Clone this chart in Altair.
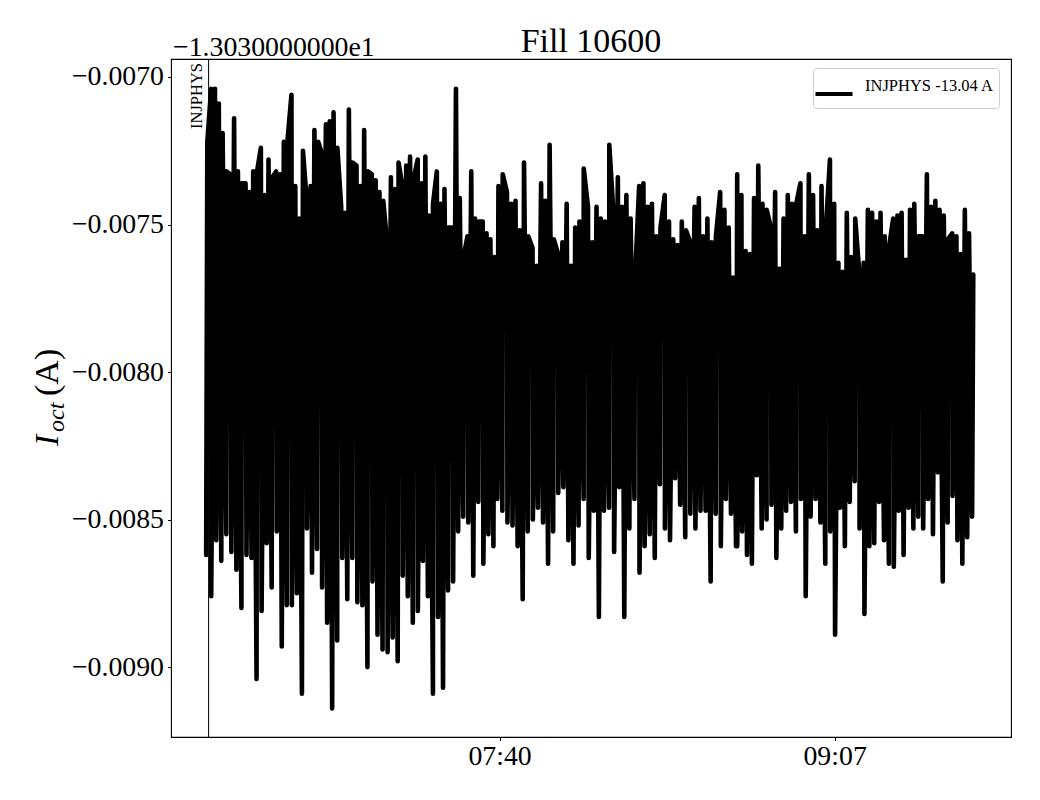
import altair as alt
import pandas as pd
import numpy as np

TITLE = "Fill 10600"
OFFSET_LABEL = "\u22121.3030000000e1"
SERIES = "INJPHYS -13.04 A"
MARKER = "INJPHYS"
INJ_TIME = 384.44            # minutes after midnight (06:24:26)
X_DOMAIN = [374.67, 592.8]   # minutes after midnight
X_TICKS = [460, 547]         # 07:40, 09:07
Y_TICKS = [-0.0070, -0.0075, -0.0080, -0.0085, -0.0090]
Y_DOMAIN = [-0.009237, -0.006939]

# Signal readings (offset from -13.03 A, in mA), upper and lower excursions,
# in three time spans (minutes after midnight).
top_A_span = [384.1, 458.6]
top_A = [-7.22, -7.04, -7.04, -7.09, -7.19, -7.32, -7.33, -7.14, -7.32, -7.36,
         -7.36, -7.39, -7.32, -7.32, -7.24, -7.40, -7.28, -7.34, -7.32, -7.33,
         -7.22, -7.21, -7.06, -7.37, -7.48, -7.25, -7.42, -7.37, -7.18, -7.22,
         -7.26, -7.16, -7.15, -7.12, -7.24, -7.44, -7.46, -7.11, -7.29, -7.30,
         -7.37, -7.18, -7.32, -7.33, -7.35, -7.39, -7.42, -7.56, -7.34, -7.38,
         -7.29, -7.37, -7.30, -7.27, -7.34, -7.28, -7.36, -7.27, -7.47, -7.43,
         -7.32, -7.43, -7.38, -7.51, -7.51, -7.04, -7.41, -7.61, -7.54, -7.32,
         -7.48, -7.49, -7.49, -7.53, -7.55, -7.61]
bot_A_span = [383.8, 458.4]
bot_A = [-8.62, -8.76, -8.57, -8.64, -8.55, -8.61, -8.67, -8.80, -8.62, -8.63,
         -9.04, -8.81, -8.58, -8.73, -8.54, -8.93, -8.79, -8.79, -8.75, -9.09,
         -8.53, -8.68, -8.60, -8.73, -8.85, -9.14, -8.91, -8.63, -8.77, -8.63,
         -8.78, -8.79, -9.00, -8.71, -8.89, -8.94, -8.95, -8.90, -8.98, -8.69,
         -8.76, -8.85, -8.81, -8.64, -8.76, -9.09, -8.83, -9.07, -8.74, -8.71,
         -8.54, -8.49, -8.51, -8.69, -8.44, -8.65, -8.55, -8.59]
top_B_span = [459.7, 520.6]
top_B = [-7.37, -7.33, -7.39, -7.43, -7.42, -7.52, -7.29, -7.54, -7.58, -7.64,
         -7.36, -7.42, -7.23, -7.55, -7.60, -7.56, -7.43, -7.64, -7.51, -7.49,
         -7.31, -7.44, -7.56, -7.44, -7.48, -7.49, -7.23, -7.47, -7.34, -7.44,
         -7.40, -7.48, -7.69, -7.37, -7.36, -7.44, -7.43, -7.54, -7.51, -7.40,
         -7.49, -7.55, -7.57, -7.49, -7.52, -7.56, -7.44, -7.41, -7.54, -7.48,
         -7.56, -7.54, -7.39, -7.45, -7.51, -7.68]
bot_B_span = [459.4, 521.4]
bot_B = [-8.43, -8.47, -8.51, -8.52, -8.59, -8.77, -8.54, -8.50, -8.46, -8.51,
         -8.65, -8.54, -8.41, -8.39, -8.57, -8.65, -8.52, -8.43, -8.63, -8.47,
         -8.83, -8.47, -8.46, -8.61, -8.39, -8.83, -8.53, -8.43, -8.68, -8.59,
         -8.55, -8.63, -8.38, -8.53, -8.57, -8.36, -8.45, -8.56, -8.48, -8.53,
         -8.47, -8.47, -8.71, -8.48, -8.59, -8.43, -8.48, -8.59]
top_C_span = [521.7, 583.0]
top_C = [-7.33, -7.40, -7.59, -7.60, -7.41, -7.30, -7.43, -7.45, -7.51, -7.39,
         -7.65, -7.48, -7.40, -7.43, -7.43, -7.36, -7.54, -7.33, -7.40, -7.52,
         -7.37, -7.52, -7.28, -7.43, -7.63, -7.66, -7.46, -7.61, -7.48, -7.67,
         -7.63, -7.45, -7.46, -7.49, -7.46, -7.54, -7.58, -7.48, -7.47, -7.46,
         -7.62, -7.45, -7.43, -7.54, -7.54, -7.33, -7.44, -7.42, -7.45, -7.47,
         -7.55, -7.53, -7.54, -7.60, -7.45, -7.53, -7.67]
bot_C_span = [521.7, 582.7]
bot_C = [-8.59, -8.54, -8.62, -8.65, -8.35, -8.53, -8.50, -8.45, -8.63, -8.53,
         -8.47, -8.44, -8.54, -8.43, -8.76, -8.49, -8.43, -8.51, -8.65, -8.54,
         -8.89, -8.46, -8.59, -8.44, -8.37, -8.53, -8.82, -8.59, -8.58, -8.44,
         -8.57, -8.65, -8.66, -8.47, -8.62, -8.46, -8.53, -8.49, -8.53, -8.43,
         -8.55, -8.34, -8.71, -8.51, -8.42, -8.57, -8.65, -8.56, -8.49]

pieces = [(top_A_span, top_A), (bot_A_span, bot_A),
          (top_B_span, top_B), (bot_B_span, bot_B),
          (top_C_span, top_C), (bot_C_span, bot_C)]
rows = []
for span, vals in pieces:
    ts = np.linspace(span[0], span[1], len(vals))
    for t, v in zip(ts, vals):
        rows.append({"t": float(t), "v": v / 1000.0, "series": SERIES})
df = pd.DataFrame(rows).sort_values("t", kind="stable").reset_index(drop=True)
df["order"] = np.arange(len(df))

FONT = "Liberation Serif"

line = alt.Chart(df).mark_line(
    strokeWidth=4.6, strokeCap="round", strokeJoin="round"
).encode(
    x=alt.X("t:Q", scale=alt.Scale(domain=X_DOMAIN, nice=False, zero=False),
            axis=alt.Axis(values=X_TICKS, title=None,
                          labelExpr="format(floor(datum.value/60), '02d') + ':' + format(datum.value % 60, '02d')")),
    y=alt.Y("v:Q", scale=alt.Scale(domain=Y_DOMAIN, nice=False, zero=False),
            axis=alt.Axis(values=Y_TICKS, format=".4f", title=None)),
    color=alt.Color("series:N", scale=alt.Scale(range=["black"]),
                    legend=alt.Legend(orient="none", legendX=642, legendY=9, title=None,
                                      symbolType="stroke", symbolSize=1369,
                                      symbolStrokeWidth=4.2, symbolStrokeColor="black",
                                      symbolOffset=-5,
                                      labelFont=FONT, labelFontSize=16.5, labelColor="black",
                                      labelBaseline="bottom", labelOffset=10, labelLimit=400,
                                      padding=5, strokeColor="#cccccc", fillColor="white",
                                      cornerRadius=3)),
    order="order:Q",
)

inj = pd.DataFrame({"t": [INJ_TIME], "label": [MARKER]})
rule = alt.Chart(inj).mark_rule(color="black", strokeWidth=1).encode(x="t:Q")
inj_text = alt.Chart(inj).mark_text(
    angle=270, align="right", baseline="alphabetic", dy=-7,
    font=FONT, fontSize=16.5, color="black"
).encode(x="t:Q", y=alt.value(4), text="label:N")

title = alt.Chart(pd.DataFrame({"s": [TITLE]})).mark_text(
    align="center", baseline="alphabetic", font=FONT, fontSize=34, color="black"
).encode(x=alt.value(420), y=alt.value(-6.6), text="s:N")

offset = alt.Chart(pd.DataFrame({"s": [OFFSET_LABEL]})).mark_text(
    align="left", baseline="alphabetic", font=FONT, fontSize=27.8, color="black"
).encode(x=alt.value(2), y=alt.value(-3.3), text="s:N")

ylab_I = alt.Chart(pd.DataFrame({"s": ["I"]})).mark_text(
    angle=270, align="left", baseline="alphabetic", font=FONT, fontSize=34,
    fontStyle="italic", color="black"
).encode(x=alt.value(-113), y=alt.value(387), text="s:N")
ylab_sub = alt.Chart(pd.DataFrame({"s": ["oct"]})).mark_text(
    angle=270, align="left", baseline="alphabetic", dy=6, font=FONT, fontSize=24,
    fontStyle="italic", color="black"
).encode(x=alt.value(-113), y=alt.value(373), text="s:N")
ylab_unit = alt.Chart(pd.DataFrame({"s": ["(A)"]})).mark_text(
    angle=270, align="left", baseline="alphabetic", font=FONT, fontSize=34,
    color="black"
).encode(x=alt.value(-113), y=alt.value(337), text="s:N")

chart = alt.layer(line, rule, inj_text, title, offset, ylab_I, ylab_sub, ylab_unit).properties(
    width=840, height=678,
    padding={"left": 163, "top": 51, "right": 20, "bottom": 50},
    autosize=alt.AutoSizeParams(type="none"),
).configure_view(
    stroke="black", strokeWidth=1.1
).configure_axis(
    grid=False, domain=False, labelFont=FONT, labelFontSize=27.8, labelColor="black",
    tickColor="black", tickSize=3.5, tickWidth=1, labelPadding=3
).configure_axisX(labelPadding=2).configure_axisY(labelPadding=4)

chart.save("out.html", embed_options={"renderer": "svg", "actions": False})
